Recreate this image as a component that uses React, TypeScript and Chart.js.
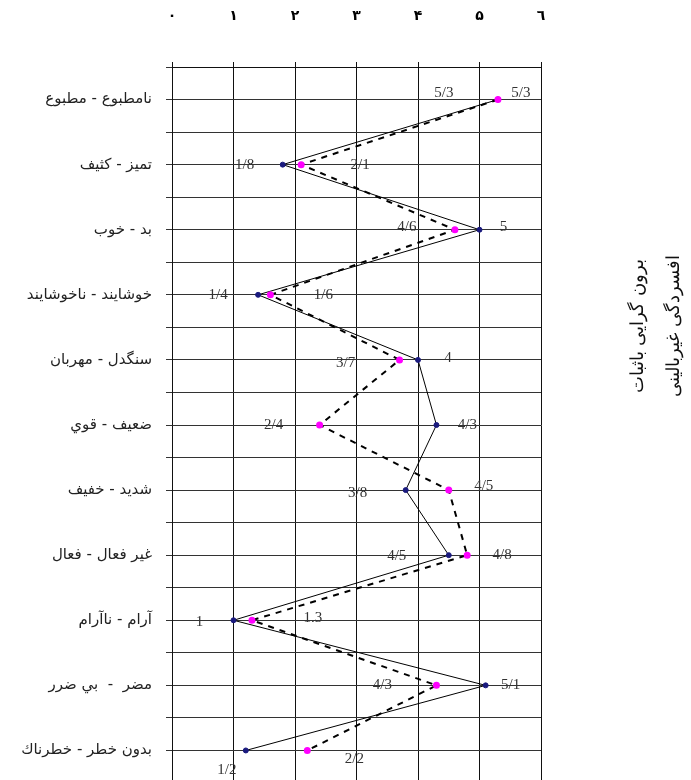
import React, { useEffect, useRef } from "react";
import { Chart, registerables } from "chart.js";

Chart.register(...registerables);

const categories = [
  "نامطبوع - مطبوع",
  "تمیز - کثیف",
  "بد - خوب",
  "خوشایند - ناخوشایند",
  "سنگدل - مهربان",
  "ضعیف - قوي",
  "شدید - خفیف",
  "غیر فعال - فعال",
  "آرام - ناآرام",
  "مضر  -  بي ضرر",
  "بدون خطر - خطرناك",
];

const solidValues = [5.3, 1.8, 5.0, 1.4, 4.0, 4.3, 3.8, 4.5, 1.0, 5.1, 1.2];
const dashedValues = [5.3, 2.1, 4.6, 1.6, 3.7, 2.4, 4.5, 4.8, 1.3, 4.3, 2.2];

const solidLabels = ["5/3", "1/8", "5", "1/4", "4", "4/3", "3/8", "4/5", "1", "5/1", "1/2"];
const dashedLabels = ["5/3", "2/1", "4/6", "1/6", "3/7", "2/4", "4/5", "4/8", "1.3", "4/3", "2/2"];

const xTickLabels = ["۰", "۱", "۲", "۳", "۴", "۵", "٦"];

const legendLines = ["برون گرایی باثبات", "افسردگی غیربالینی"];

// label offsets in pixels relative to each point (style only)
const solidLabelOffsets: [number, number][] = [
  [23, -6], [-38, 0], [24, -3], [-40, 0], [30, -2], [31, 0], [-48, 3], [-52, 1], [-34, 2], [25, 0], [-19, 20],
];
const dashedLabelOffsets: [number, number][] = [
  [-54, -6], [59, 0], [-48, -3], [53, 0], [-54, 3], [-46, 0], [35, -4], [35, 0], [61, -2], [-54, 0], [47, 9],
];

const labelPlugin = {
  id: "pointLabels",
  afterDatasetsDraw(chart: any) {
    const ctx = chart.ctx;
    ctx.save();
    ctx.font = "15px 'Liberation Serif', 'Times New Roman', serif";
    ctx.fillStyle = "#333";
    ctx.textAlign = "center";
    ctx.textBaseline = "middle";
    const sets = [
      { labels: solidLabels, offsets: solidLabelOffsets },
      { labels: dashedLabels, offsets: dashedLabelOffsets },
    ];
    sets.forEach((s, di) => {
      const meta = chart.getDatasetMeta(di);
      meta.data.forEach((pt: any, i: number) => {
        const [dx, dy] = s.offsets[i];
        ctx.fillText(s.labels[i], pt.x + dx, pt.y + dy);
      });
    });
    ctx.restore();
  },
};

export default function App() {
  const ref = useRef<HTMLCanvasElement | null>(null);

  useEffect(() => {
    if (!ref.current) return;
    const chart = new Chart(ref.current, {
      type: "scatter",
      data: {
        datasets: [
          {
            label: "solid",
            data: solidValues.map((v, i) => ({ x: v, y: i })),
            showLine: true,
            borderColor: "#000",
            borderWidth: 1,
            pointBackgroundColor: "#1a1a7e",
            pointBorderColor: "#1a1a7e",
            pointRadius: 2.5,
            order: 2,
          },
          {
            label: "dashed",
            data: dashedValues.map((v, i) => ({ x: v, y: i })),
            showLine: true,
            borderColor: "#000",
            borderWidth: 2,
            borderDash: [6, 6],
            pointBackgroundColor: "#ff00ff",
            pointBorderColor: "#ff00ff",
            pointRadius: 2.5,
            order: 1,
          },
        ],
      },
      options: {
        animation: false,
        responsive: false,
        maintainAspectRatio: false,
        layout: { padding: { left: 0, right: 150, top: 0, bottom: 0 } },
        plugins: {
          legend: { display: false },
          tooltip: { enabled: false },
        },
        scales: {
          x: {
            type: "linear",
            position: "top",
            min: 0,
            max: 6,
            ticks: {
              stepSize: 1,
              padding: 37,
              color: "#000",
              font: { family: "'DejaVu Sans', sans-serif", size: 14, weight: "bold" },
              callback: (v: any) => xTickLabels[Math.round(Number(v))] ?? "",
            },
            grid: { color: "#111", lineWidth: 1, tickLength: 5 },
            border: { color: "#111", width: 1 },
            afterFit: (scale: any) => {
              scale.height = 67;
            },
          },
          y: {
            type: "linear",
            reverse: true,
            min: -0.5,
            max: 10.5,
            ticks: {
              stepSize: 0.5,
              autoSkip: false,
              padding: 14,
              color: "#222",
              font: { family: "'DejaVu Sans', 'Liberation Sans', sans-serif", size: 15 },
              callback: (v: any) => {
                const n = Number(v);
                const r = Math.round(n);
                return Math.abs(n - r) < 1e-6 ? categories[r] ?? "" : "";
              },
            },
            grid: { color: "#333", lineWidth: 1, tickLength: 6 },
            border: { color: "#111", width: 1 },
            afterFit: (scale: any) => {
              scale.width = 172;
            },
          },
        },
      } as any,
      plugins: [labelPlugin],
    });
    return () => chart.destroy();
  }, []);

  return (
    <div
      style={{
        position: "absolute",
        left: 0,
        top: 0,
        width: 691,
        height: 780,
        overflow: "hidden",
        background: "#fff",
      }}
    >
      <canvas ref={ref} width={691} height={806} style={{ display: "block" }} />
      {legendLines.map((t, i) => (
        <div
          key={i}
          style={{
            position: "absolute",
            left: i === 0 ? 636 : 672,
            top: 326,
            transform: "translate(-50%, -50%) rotate(-90deg)",
            whiteSpace: "nowrap",
            direction: "rtl",
            fontFamily: "'DejaVu Serif', 'Times New Roman', serif",
            fontSize: 18,
            color: "#111",
          }}
        >
          {t}
        </div>
      ))}
    </div>
  );
}
